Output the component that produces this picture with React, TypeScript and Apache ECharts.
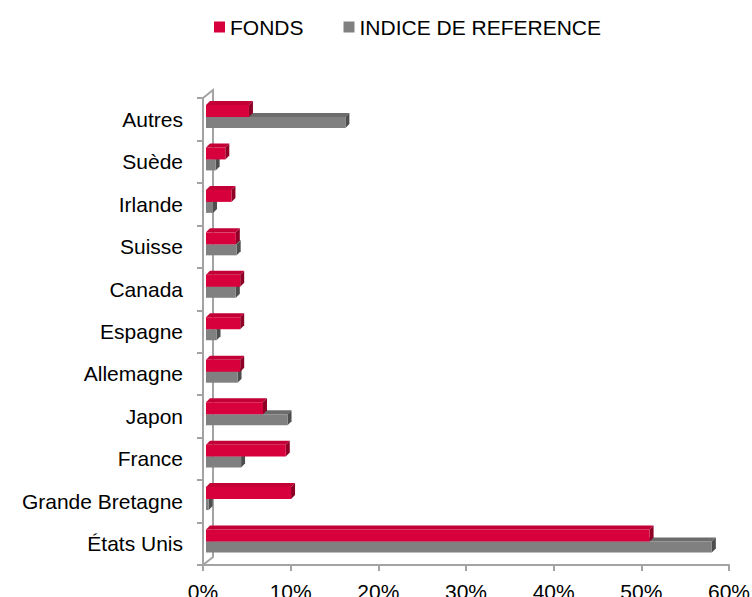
import React, { useEffect, useRef } from "react";
import * as echarts from "echarts";

const categories = [
  "Autres",
  "Suède",
  "Irlande",
  "Suisse",
  "Canada",
  "Espagne",
  "Allemagne",
  "Japon",
  "France",
  "Grande Bretagne",
  "États Unis",
];
const fonds = [4.9, 2.2, 2.9, 3.4, 3.9, 3.9, 3.9, 6.5, 9.1, 9.7, 50.6];
const indice = [15.9, 1.1, 0.8, 3.5, 3.4, 1.2, 3.6, 9.3, 4.0, 0.3, 57.7];
const xTicks = [0, 10, 20, 30, 40, 50, 60];

const FONT = "'Liberation Sans', Arial, Helvetica, sans-serif";
const AXIS = "#a3a3a3";
const GL = 203;
const GR = 23;
const GT = 98;
const GBOT = 32;
const W = 752;
const H = 597;
const WALL_DX = 10;
const WALL_DY = 8;
const SHIFT = 3;
const DEPTH = 4;

function makeRender(front: string, top: string, side: string, f0: number, f1: number) {
  return (params: any, api: any) => {
    const v = api.value(0);
    const idx = api.value(1);
    const p0 = api.coord([0, idx]);
    const p1 = api.coord([v, idx]);
    const band = api.size([0, 1])[1];
    const x0 = p0[0] + SHIFT;
    const x1 = p1[0] + SHIFT;
    const ya = p0[1] + f0 * band;
    const yb = p0[1] + f1 * band;
    const d = DEPTH;
    return {
      type: "group",
      children: [
        {
          type: "polygon",
          shape: { points: [[x0, ya], [x0 + d, ya - d], [x1 + d, ya - d], [x1, ya]] },
          style: { fill: top },
        },
        {
          type: "polygon",
          shape: { points: [[x1, ya], [x1 + d, ya - d], [x1 + d, yb - d], [x1, yb]] },
          style: { fill: side },
        },
        {
          type: "rect",
          shape: { x: x0, y: ya, width: Math.max(0, x1 - x0), height: yb - ya },
          style: { fill: front },
        },
      ],
    };
  };
}

export default function App() {
  const ref = useRef<HTMLDivElement>(null);
  useEffect(() => {
    if (!ref.current) return;
    const chart = echarts.init(ref.current, undefined, { renderer: "svg" });
    const gb = H - GBOT;
    chart.setOption({
      animation: false,
      backgroundColor: "#ffffff",
      textStyle: { fontFamily: FONT },
      legend: {
        left: 214,
        top: 16,
        padding: 0,
        icon: "rect",
        itemWidth: 11,
        itemHeight: 11,
        itemGap: 40,
        data: ["FONDS", "INDICE DE REFERENCE"],
        textStyle: { fontSize: 21, color: "#000", fontFamily: FONT, lineHeight: 22 },
      },
      grid: {
        left: GL,
        right: GR,
        top: GT,
        bottom: GBOT,
        containLabel: false,
        outerBoundsMode: "none",
      },
      xAxis: {
        type: "value",
        min: 0,
        max: 60,
        interval: 10,
        splitLine: { show: false },
        axisLine: { show: true, lineStyle: { color: AXIS, width: 2 } },
        axisTick: { show: true, length: 6, lineStyle: { color: AXIS, width: 2 } },
        axisLabel: {
          margin: 16,
          fontSize: 21,
          color: "#000",
          fontFamily: FONT,
          formatter: (v: number) => (xTicks.includes(v) ? v + "%" : ""),
        },
      },
      yAxis: {
        type: "category",
        inverse: true,
        data: categories,
        axisLine: { show: true, lineStyle: { color: AXIS, width: 2 } },
        axisTick: { show: true, length: 6, lineStyle: { color: AXIS, width: 2 } },
        axisLabel: { margin: 20, fontSize: 21, color: "#000", fontFamily: FONT },
      },
      graphic: [
        {
          type: "polyline",
          z: 0,
          silent: true,
          shape: {
            points: [
              [GL, GT],
              [GL + WALL_DX, GT - WALL_DY],
              [GL + WALL_DX, gb - WALL_DY],
              [GL, gb],
            ],
          },
          style: { stroke: AXIS, lineWidth: 2, fill: null },
        },
      ],
      series: [
        {
          name: "INDICE DE REFERENCE",
          type: "custom",
          z: 3,
          itemStyle: { color: "#808080" },
          encode: { x: 0, y: 1 },
          renderItem: makeRender("#808080", "#6c6c6c", "#4e4e4e", -0.053, 0.206),
          data: indice.map((v, i) => [v, i]),
        },
        {
          name: "FONDS",
          type: "custom",
          z: 4,
          itemStyle: { color: "#d7003c" },
          encode: { x: 0, y: 1 },
          renderItem: makeRender("#d7003c", "#c20036", "#8f0027", -0.335, -0.053),
          data: fonds.map((v, i) => [v, i]),
        },
      ],
    });
    return () => chart.dispose();
  }, []);
  return (
    <div
      ref={ref}
      style={{ position: "absolute", left: 0, top: 0, width: W, height: H }}
    />
  );
}
